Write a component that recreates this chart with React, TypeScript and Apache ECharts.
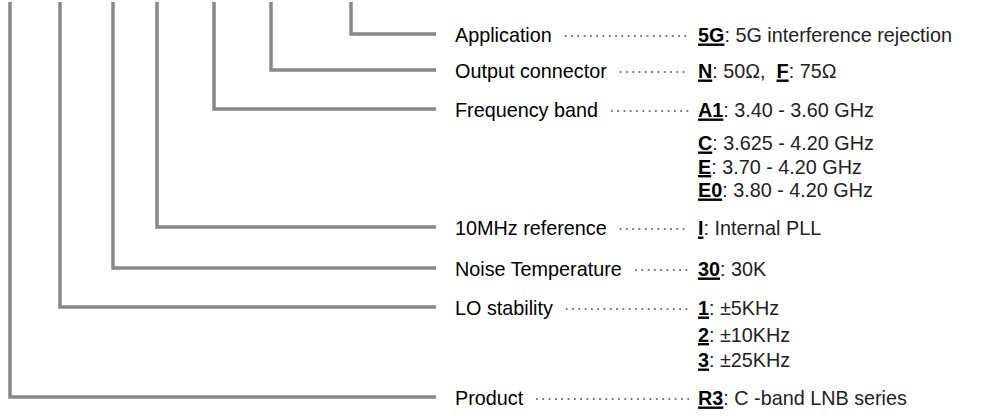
import React, { useEffect, useRef } from "react";
import * as echarts from "echarts";

// ---- content ----
const fieldLabels = [
  "Application",
  "Output connector",
  "Frequency band",
  "10MHz reference",
  "Noise Temperature",
  "LO stability",
  "Product",
];

// each field: list of lines, each line: list of [code, description] segments
const applicationOptions = [[["5G", ": 5G interference rejection"]]];
const outputOptions = [[["N", ": 50Ω,  "], ["F", ": 75Ω"]]];
const frequencyOptions = [
  [["A1", ": 3.40 - 3.60 GHz"]],
  [["C", ": 3.625 - 4.20 GHz"]],
  [["E", ": 3.70 - 4.20 GHz"]],
  [["E0", ": 3.80 - 4.20 GHz"]],
];
const referenceOptions = [[["I", ": Internal PLL"]]];
const noiseOptions = [[["30", ": 30K"]]];
const stabilityOptions = [
  [["1", ": ±5KHz"]],
  [["2", ": ±10KHz"]],
  [["3", ": ±25KHz"]],
];
const productOptions = [[["R3", ": C -band LNB series"]]];

const fieldOptions = [
  applicationOptions,
  outputOptions,
  frequencyOptions,
  referenceOptions,
  noiseOptions,
  stabilityOptions,
  productOptions,
];

// ---- layout (pixel space of hidden axes) ----
const W = 1001;
const H = 416;
const connectorX = [351, 271, 214, 157, 113, 60, 10];
const rowY = [34, 70, 109, 227, 268, 307, 397];
const subRowGap = [0, 0, 23.5, 0, 0, 25.5, 0];
const firstSubGap = [0, 0, 33, 0, 0, 26.5, 0];
const connectorTop = 2;
const connectorRight = 436;
const labelX = 455;
const valueX = 698;
const dotsEnd = 689;
const FAMILY = "Liberation Sans";
const FS = 19.8;

function measure(text: string, bold: boolean) {
  const c = document.createElement("canvas").getContext("2d")!;
  c.font = `${bold ? "bold " : ""}${FS}px "${FAMILY}"`;
  return c.measureText(text).width;
}

function textStyle(text: string, bold: boolean, fill: string) {
  return {
    text,
    fontSize: FS,
    fontFamily: FAMILY,
    fontWeight: bold ? "bold" : "normal",
    fill,
    textVerticalAlign: "middle",
    verticalAlign: "middle",
  };
}

export default function App() {
  const ref = useRef<HTMLDivElement>(null);
  useEffect(() => {
    const chart = echarts.init(ref.current!, undefined, { renderer: "svg" });

    const series: any[] = fieldLabels.map((name, i) => ({
      type: "line",
      name,
      data: [
        [connectorX[i], connectorTop],
        [connectorX[i], rowY[i]],
        [connectorRight, rowY[i]],
      ],
      symbol: "none",
      lineStyle: { color: "#888888", width: 3.5, join: "miter", cap: "butt" },
      silent: true,
    }));

    // dotted leaders
    fieldLabels.forEach((name, i) => {
      const start = labelX + measure(name, false) + 13;
      series.push({
        type: "line",
        data: [
          [start, rowY[i] + 2],
          [dotsEnd, rowY[i] + 2],
        ],
        symbol: "none",
        lineStyle: { color: "#444", width: 1.7, type: [1.7, 4.6], cap: "butt" },
        silent: true,
      });
    });

    const graphics: any[] = [];
    fieldLabels.forEach((name, i) => {
      graphics.push({
        type: "text",
        x: labelX,
        y: rowY[i] + 1,
        style: textStyle(name, false, "#000"),
      });
      fieldOptions[i].forEach((line, li) => {
        const y =
          rowY[i] + 1 + (li === 0 ? 0 : firstSubGap[i] + (li - 1) * subRowGap[i]);
        let x = valueX;
        line.forEach(([code, desc]) => {
          const cw = measure(code, true);
          graphics.push({
            type: "text",
            x,
            y,
            style: textStyle(code, true, "#000"),
          });
          graphics.push({
            type: "rect",
            shape: { x, y: y + 8.5, width: cw, height: 2.4 },
            style: { fill: "#000" },
          });
          x += cw;
          graphics.push({
            type: "text",
            x,
            y,
            style: textStyle(desc, false, "#222"),
          });
          x += measure(desc, false);
        });
      });
    });

    chart.setOption({
      animation: false,
      grid: { left: 0, right: 0, top: 0, bottom: 0 },
      xAxis: { type: "value", min: 0, max: W, show: false },
      yAxis: { type: "value", min: 0, max: H, inverse: true, show: false },
      series,
      graphic: graphics,
    });
    return () => chart.dispose();
  }, []);
  return (
    <div
      ref={ref}
      style={{ position: "absolute", left: 0, top: 0, width: W, height: H, background: "#fff" }}
    />
  );
}
